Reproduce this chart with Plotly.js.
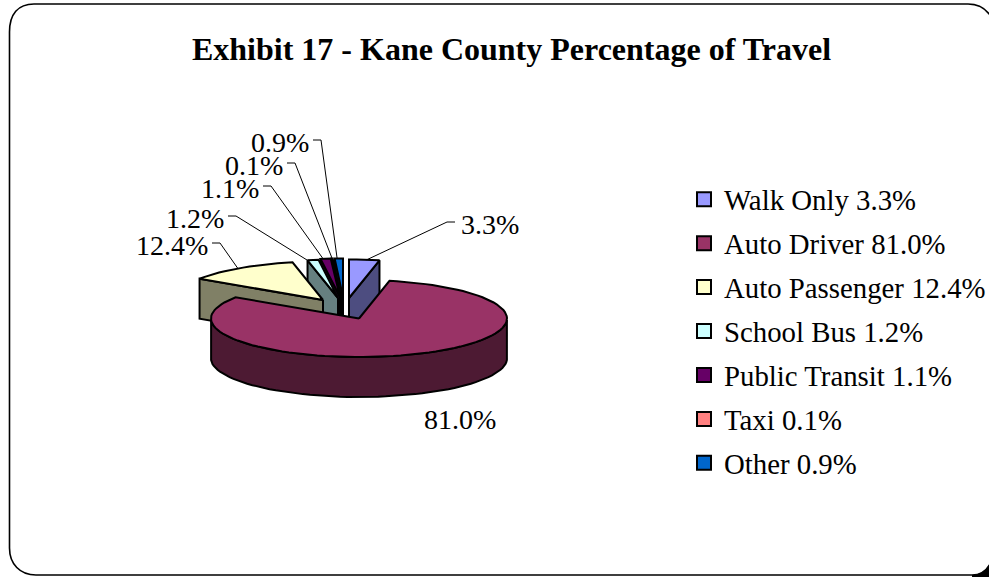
<!DOCTYPE html>
<html><head><meta charset="utf-8">
<script src="https://cdn.plot.ly/plotly-3.0.1.min.js"></script>
<style>html,body{margin:0;padding:0;background:#fff}#c{width:989px;height:577px}</style>
</head><body><div id="c"></div>
<script>
var categories = ["Walk Only","Auto Driver","Auto Passenger","School Bus","Public Transit","Taxi","Other"];
var shares = [3.3,81.0,12.4,1.2,1.1,0.1,0.9];
var topColors = ["#9999ff","#993366","#ffffcc","#ccffff","#660066","#ff8080","#0066cc"];
var sideColors = ["#4d4d80","#4d1a33","#808066","#668080","#330033","#804040","#003366"];
// explode centres for each slice (chart geometry)
var centres = [[349,298],[359,318.5],[323,300],[338,298],[340,297],[341,297],[343,297]];
var RX = 148, RY = 38.5, DEPTH = 40;
var labelAnchors = [[459,224],[422,419],[210,245],[226,218],[261,188],[285,165],[311,142]];
var leaderFractions = [0.58,0.5,0.48,0,0.25,0.5,0.3];
var drawOrder = [6,5,4,3,2,0,1];

function rim(c,a){return [c[0]+RX*Math.sin(a), c[1]-RY*Math.cos(a)];}
function arc(c,a0,a1){var n=Math.max(2,Math.ceil((a1-a0)/(Math.PI/60)));var p=[];for(var i=0;i<=n;i++)p.push(rim(c,a0+(a1-a0)*i/n));return p;}
function poly(pts,fill){
  pts=pts.concat([pts[0]]);
  return {type:'scatter',mode:'lines',x:pts.map(function(p){return p[0]}),y:pts.map(function(p){return p[1]}),
    fill:'toself',fillcolor:fill,line:{color:'#000',width:2},showlegend:false,hoverinfo:'skip'};
}
var total = shares.reduce(function(a,b){return a+b},0), run=0, ranges=[];
shares.forEach(function(s){ranges.push([run/total*2*Math.PI,(run+s)/total*2*Math.PI]);run+=s;});
function down(p){return [p[0],p[1]+DEPTH];}
var traces=[];
drawOrder.forEach(function(i){
  var c=centres[i], a0=ranges[i][0], a1=ranges[i][1], top=arc(c,a0,a1);
  var s0=top[0], s1=top[top.length-1];
  if(Math.sin(a0)<-1e-6) traces.push(poly([c,s0,down(s0),down(c)],sideColors[i]));
  if(Math.sin(a1)>1e-6) traces.push(poly([c,s1,down(s1),down(c)],sideColors[i]));
  var near=top.filter(function(p){return p[1]>=c[1]});
  if(near.length>1){traces.push(poly(near.concat(near.slice().reverse().map(down)),sideColors[i]));}
  traces.push(poly([c].concat(top),topColors[i]));
});
// value labels and leader lines
var annotations=[];
categories.forEach(function(name,i){
  var c=centres[i], r=ranges[i], e=rim(c,r[0]+(r[1]-r[0])*leaderFractions[i]);
  var l=labelAnchors[i];
  annotations.push({x:l[0],y:l[1],xref:'x',yref:'y',text:shares[i].toFixed(1)+'%',showarrow:false,
    xanchor:i<2?'left':'right',yanchor:'middle',font:{family:'Liberation Serif',size:28,color:'#000'}});
  if(i!==1){
    var sx=i===0?l[0]-4:l[0]+2, kx=i===0?l[0]-12:l[0]+10, ly=l[1]-2;
    traces.push({type:'scatter',mode:'lines',x:[sx,kx,e[0]],y:[ly,ly,e[1]],line:{color:'#000',width:1},showlegend:false,hoverinfo:'skip'});
  }
});
// legend entries
categories.forEach(function(name,i){
  traces.push({type:'scatter',mode:'markers',x:[null],y:[null],name:name+' '+shares[i].toFixed(1)+'%',legendgroup:name,
    marker:{symbol:'square',size:14,color:topColors[i],line:{color:'#000',width:2}}});
});
var layout={
  width:989,height:577,margin:{l:0,r:0,t:0,b:0,autoexpand:false},paper_bgcolor:'#fff',plot_bgcolor:'#fff',
  title:{text:'<b>Exhibit 17 - Kane County Percentage of Travel</b>',x:511.5/989,xanchor:'center',y:0.915,yanchor:'middle',font:{family:'Liberation Serif',size:32,color:'#000'}},
  xaxis:{range:[0,989],visible:false,fixedrange:true},
  yaxis:{range:[577,0],visible:false,fixedrange:true},
  legend:{x:684/989,xanchor:'left',y:1-174/577,yanchor:'top',font:{family:'Liberation Serif',size:28.8,color:'#000'},tracegroupgap:3.5,bgcolor:'rgba(0,0,0,0)',borderwidth:0},
  annotations:annotations,
  shapes:[
    {type:'path',xref:'x',yref:'y',path:'M 990 15 C 985 8 978 4 968 4 L 34 4 C 18 4 9.5 14 9.5 32 L 9.5 548 C 9.5 564 20 575 36 575 L 972 575 C 980 575 986 571 990 564',fillcolor:'rgba(0,0,0,0)',line:{color:'#000',width:1.6},layer:'below'},
    {type:'path',xref:'x',yref:'y',path:'M 972 575 C 980 575 986 571 990 564 L 990 578 L 972 578 Z',fillcolor:'#000',line:{width:0},layer:'below'}
  ]
};
Plotly.newPlot('c',traces,layout,{displayModeBar:false,staticPlot:true});
</script></body></html>
